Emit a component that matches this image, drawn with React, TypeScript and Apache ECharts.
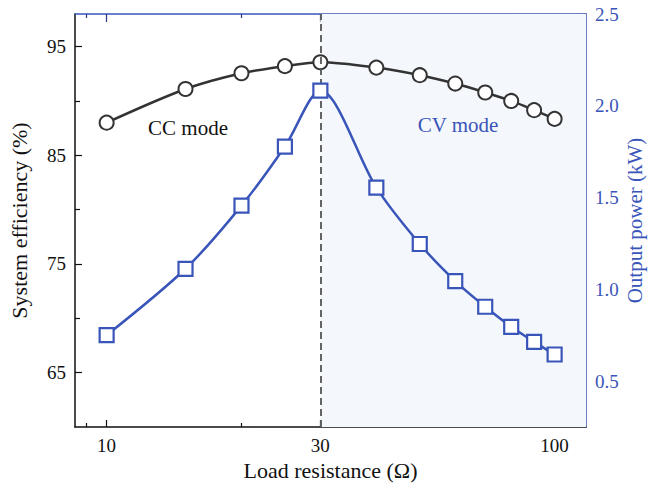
import React, { useEffect, useRef } from "react";
import * as echarts from "echarts";

const resistance = [10, 15, 20, 25, 30, 40, 50, 60, 70, 80, 90, 100];
const efficiency = [88.0, 91.1, 92.55, 93.2, 93.56, 93.07, 92.37, 91.6, 90.78, 90.0, 89.15, 88.35];
const power = [0.75, 1.112, 1.456, 1.778, 2.083, 1.554, 1.247, 1.045, 0.905, 0.796, 0.714, 0.645];

const xMajorTicks = [10, 30, 100];
const xMinorTicks = [9, 20, 40, 50, 60, 70, 80, 90];
const leftMajorTicks = [65, 75, 85, 95];
const leftMinorTicks = [70, 80, 90];
const rightMajorTicks = [0.5, 1.0, 1.5, 2.0, 2.5];
const rightMinorTicks = [0.75, 1.25, 1.75, 2.25];

const X_MIN = 8.5;
const X_MAX = 117.5;
const CV_START = 30;

const FONT = "Liberation Serif";
const BLUE = "#3a55b9";
const DARK = "#333333";

export default function App() {
  const ref = useRef<HTMLDivElement>(null);

  useEffect(() => {
    document.body.style.margin = "0";
    if (!ref.current) return;
    const chart = echarts.init(ref.current, undefined, { renderer: "svg" });

    const baseX = {
      type: "log" as const,
      logBase: 10,
      min: X_MIN,
      max: X_MAX,
      splitLine: { show: false },
    };
    const baseLeft = { type: "value" as const, min: 60, max: 98, splitLine: { show: false } };
    const baseRight = { type: "value" as const, min: 0.25, max: 2.5, splitLine: { show: false } };

    chart.setOption({
      animation: false,
      backgroundColor: "#ffffff",
      grid: { left: 75, right: 65, top: 14, bottom: 64, containLabel: false, outerBoundsMode: "none" },
      xAxis: [
        {
          ...baseX,
          position: "bottom",
          name: "Load resistance (Ω)",
          nameLocation: "middle",
          nameGap: 32,
          nameTextStyle: { fontFamily: FONT, fontSize: 22, color: "#111" },
          axisLine: { show: true, lineStyle: { color: "#111", width: 1.5 } },
          axisTick: { show: true, inside: true, length: 7, customValues: xMajorTicks, lineStyle: { color: "#111", width: 1.2 } },
          axisLabel: {
            show: true,
            customValues: xMajorTicks,
            margin: 9,
            fontFamily: FONT,
            fontSize: 19,
            color: "#111",
            formatter: (v: number) => String(Math.round(v)),
          },
        },
        {
          ...baseX,
          position: "bottom",
          axisLine: { show: false },
          axisTick: { show: true, inside: true, length: 4, customValues: xMinorTicks, lineStyle: { color: "#111", width: 1.2 } },
          axisLabel: { show: false },
        },
        {
          ...baseX,
          position: "top",
          axisLine: { show: true, lineStyle: { color: BLUE, width: 1.5 } },
          axisTick: { show: true, inside: true, length: 8, customValues: xMajorTicks, lineStyle: { color: "#2b3a7a", width: 1.2 } },
          axisLabel: { show: false },
        },
        {
          ...baseX,
          position: "top",
          axisLine: { show: false },
          axisTick: { show: true, inside: true, length: 4, customValues: xMinorTicks, lineStyle: { color: "#2b3a7a", width: 1.2 } },
          axisLabel: { show: false },
        },
      ],
      yAxis: [
        {
          ...baseLeft,
          position: "left",
          name: "System efficiency (%)",
          nameLocation: "middle",
          nameRotate: 90,
          nameGap: 45,
          nameTextStyle: { fontFamily: FONT, fontSize: 22, color: "#111" },
          axisLine: { show: true, lineStyle: { color: "#111", width: 1.5 } },
          axisTick: { show: true, inside: true, length: 7, customValues: leftMajorTicks, lineStyle: { color: "#111", width: 1.2 } },
          axisLabel: {
            show: true,
            customValues: leftMajorTicks,
            margin: 9,
            fontFamily: FONT,
            fontSize: 19,
            color: "#111",
          },
        },
        {
          ...baseLeft,
          position: "left",
          axisLine: { show: false },
          axisTick: { show: true, inside: true, length: 5, customValues: leftMinorTicks, lineStyle: { color: "#111", width: 1.2 } },
          axisLabel: { show: false },
        },
        {
          ...baseRight,
          position: "right",
          name: "Output power (kW)",
          nameLocation: "middle",
          nameRotate: 90,
          nameGap: 38,
          nameMoveOverlap: false,
          nameTextStyle: { fontFamily: FONT, fontSize: 21, lineHeight: 22, color: BLUE },
          axisLine: { show: true, lineStyle: { color: BLUE, width: 1.5 } },
          axisTick: { show: true, inside: true, length: 7, customValues: rightMajorTicks, lineStyle: { color: BLUE, width: 1.2 } },
          axisLabel: {
            show: true,
            customValues: rightMajorTicks,
            margin: 9,
            fontFamily: FONT,
            fontSize: 19,
            color: BLUE,
            formatter: (v: number) => v.toFixed(1),
          },
        },
        {
          ...baseRight,
          position: "right",
          axisLine: { show: false },
          axisTick: { show: true, inside: true, length: 5, customValues: rightMinorTicks, lineStyle: { color: BLUE, width: 1.2 } },
          axisLabel: { show: false },
        },
      ],
      series: [
        {
          name: "System efficiency",
          type: "line",
          xAxisIndex: 0,
          yAxisIndex: 0,
          data: resistance.map((r, i) => [r, efficiency[i]]),
          smooth: 0.3,
          symbol: "circle",
          symbolSize: 14,
          showAllSymbol: true,
          z: 4,
          lineStyle: { color: DARK, width: 2.5 },
          itemStyle: { color: "#ffffff", borderColor: DARK, borderWidth: 2 },
          markArea: {
            silent: true,
            itemStyle: { color: "#f4f8fc" },
            data: [[{ xAxis: CV_START }, { xAxis: X_MAX }]],
          },
          markLine: {
            silent: true,
            symbol: ["none", "none"],
            label: { show: false },
            lineStyle: { color: "#555555", width: 1.8, type: [7, 4] },
            data: [{ xAxis: CV_START }],
          },
        },
        {
          name: "Output power",
          type: "line",
          xAxisIndex: 0,
          yAxisIndex: 2,
          data: resistance.map((r, i) => [r, power[i]]),
          smooth: 0.3,
          symbol: "rect",
          symbolSize: 14,
          showAllSymbol: true,
          z: 5,
          lineStyle: { color: BLUE, width: 2.5 },
          itemStyle: { color: "#ffffff", borderColor: BLUE, borderWidth: 2.2 },
        },
      ],
      graphic: [
        {
          type: "text",
          x: 188,
          y: 128,
          style: { text: "CC mode", fontFamily: FONT, fontSize: 21, fill: "#111", align: "center", verticalAlign: "middle" },
          z: 10,
        },
        {
          type: "text",
          x: 458,
          y: 125,
          style: { text: "CV mode", fontFamily: FONT, fontSize: 21, fill: BLUE, align: "center", verticalAlign: "middle" },
          z: 10,
        },
      ],
    });

    return () => chart.dispose();
  }, []);

  return <div ref={ref} style={{ width: 651, height: 491 }} />;
}
